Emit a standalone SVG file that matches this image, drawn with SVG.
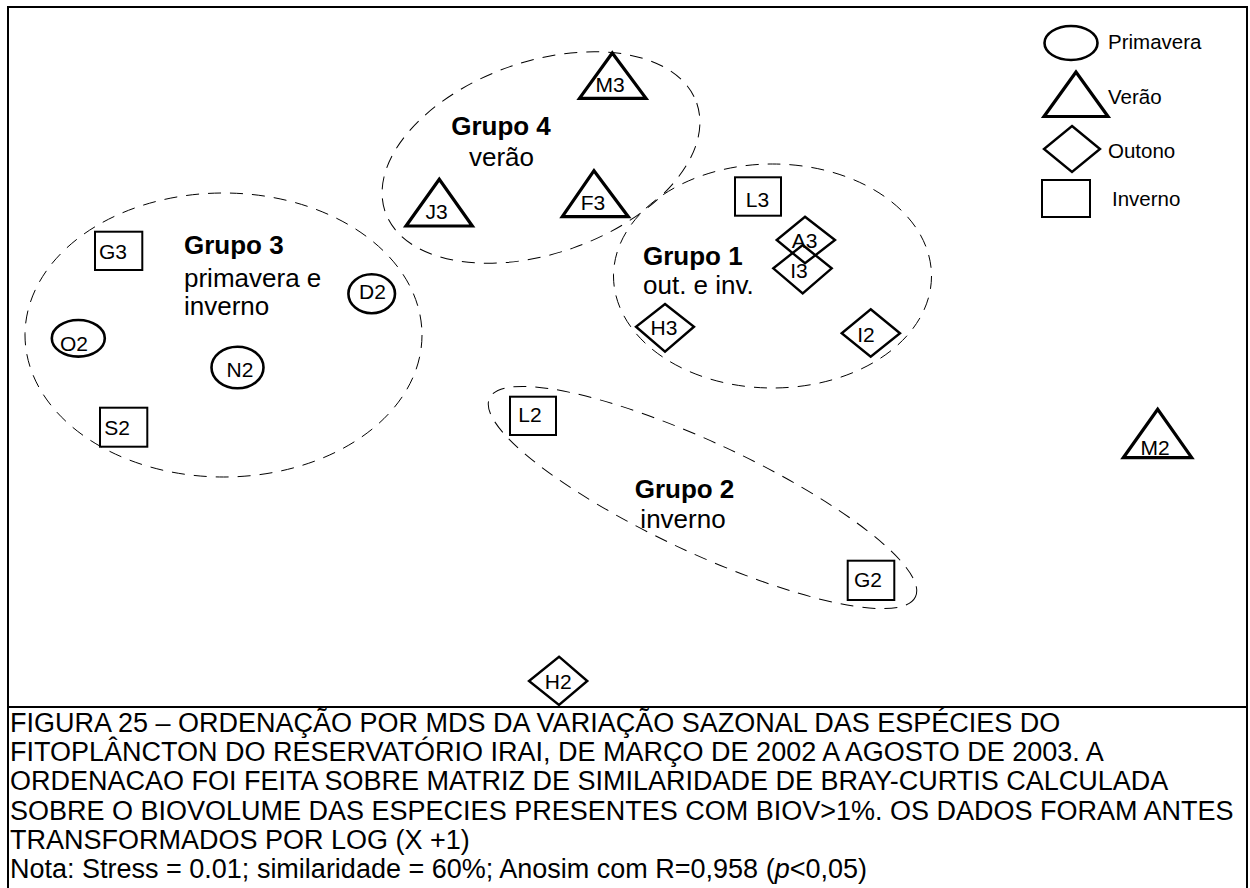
<svg xmlns="http://www.w3.org/2000/svg" width="1250" height="888" viewBox="0 0 1250 888">
<style>
text{font-family:"Liberation Sans",Arial,sans-serif;fill:#000}
.lbl{font-size:21px;text-anchor:middle}
.leg{font-size:20.5px}
.gt{font-size:26px;font-weight:bold}
.gs{font-size:26px}
.cap{font-size:27px}
.tri{fill:none;stroke:#000;stroke-width:3.2;stroke-linejoin:miter}
.ell{fill:none;stroke:#000;stroke-width:2.6}
.dia{fill:none;stroke:#000;stroke-width:2.4}
.sq{fill:none;stroke:#000;stroke-width:2}
.grp{fill:none;stroke:#000;stroke-width:1;stroke-dasharray:13 9}
</style>
<rect x="0" y="0" width="1250" height="888" fill="#fff"/>
<rect x="8" y="7" width="1239" height="900" fill="none" stroke="#000" stroke-width="2"/>
<line x1="8" y1="707" x2="1247" y2="707" stroke="#000" stroke-width="2"/>

<g id="connectors">
<ellipse class="grp" cx="541" cy="157.5" rx="165" ry="96" transform="rotate(-19.3 541 157.5)"/>
<ellipse class="grp" cx="223.5" cy="335" rx="198.5" ry="142"/>
<ellipse class="grp" cx="772.5" cy="276" rx="159" ry="112"/>
<ellipse class="grp" cx="702.5" cy="497.5" rx="235" ry="55" transform="rotate(25 702.5 497.5)"/>
</g>

<g id="legend">
<ellipse class="ell" cx="1071" cy="43" rx="26.5" ry="17" stroke-width="2.2"/>
<text class="leg" x="1108" y="49">Primavera</text>
<polygon class="tri" points="1076,72 1044,116.5 1108,116.5"/>
<text class="leg" x="1108" y="104">Verão</text>
<polygon class="dia" points="1072,126 1100,149 1072,172 1044,149"/>
<text class="leg" x="1108" y="158">Outono</text>
<rect class="sq" x="1042" y="180" width="48" height="37"/>
<text class="leg" x="1112" y="206">Inverno</text>
</g>

<g id="grupo4-label"><text class="gt" x="501" y="135" text-anchor="middle">Grupo 4</text><text class="gs" x="501.5" y="166" text-anchor="middle">verão</text></g>
<g id="grupo3-label"><text class="gt" x="184" y="254">Grupo 3</text><text class="gs" x="184" y="287">primavera e</text><text class="gs" x="184" y="315">inverno</text></g>
<g id="grupo1-label"><text class="gt" x="643" y="265">Grupo 1</text><text class="gs" x="643" y="294">out. e inv.</text></g>
<g id="grupo2-label"><text class="gt" x="684.5" y="498" text-anchor="middle">Grupo 2</text><text class="gs" x="683" y="528" text-anchor="middle">inverno</text></g>

<g id="M3"><polygon class="tri" points="612.3,53 579.5,98.3 646,98.3"/><text class="lbl" x="610" y="92">M3</text></g>
<g id="J3"><polygon class="tri" points="439.3,179.3 406,226 472.3,226"/><text class="lbl" x="436.5" y="218.5">J3</text></g>
<g id="F3"><polygon class="tri" points="594,170.7 562.3,216.7 628.3,216.7"/><text class="lbl" x="593" y="209.5">F3</text></g>
<g id="M2"><polygon class="tri" points="1157.7,409.3 1123.3,457.7 1191.7,457.7"/><text class="lbl" x="1155" y="455">M2</text></g>

<g id="G3"><rect class="sq" x="95" y="231.7" width="47.3" height="38.3"/><text class="lbl" x="113" y="258.5">G3</text></g>
<g id="S2"><rect class="sq" x="100" y="407.7" width="47.3" height="39"/><text class="lbl" x="117" y="435">S2</text></g>
<g id="L3"><rect class="sq" x="735" y="177.3" width="46" height="38.4"/><text class="lbl" x="757.5" y="206.5">L3</text></g>
<g id="L2"><rect class="sq" x="510" y="396.7" width="46" height="38.3"/><text class="lbl" x="530" y="421.7">L2</text></g>
<g id="G2"><rect class="sq" x="847.7" y="560.7" width="46.6" height="39.3"/><text class="lbl" x="868" y="587">G2</text></g>

<g id="D2"><ellipse class="ell" cx="371.7" cy="293.8" rx="23.3" ry="19.5"/><text class="lbl" x="372.5" y="298.5">D2</text></g>
<g id="O2"><ellipse class="ell" cx="78.3" cy="338.3" rx="26.5" ry="18.3"/><text class="lbl" x="74" y="351">O2</text></g>
<g id="N2"><ellipse class="ell" cx="237.5" cy="367.5" rx="26" ry="20.8"/><text class="lbl" x="240" y="377">N2</text></g>

<g id="A3"><polygon class="dia" points="805,216.7 835,240 805,263.3 776.7,240"/><text class="lbl" x="804.7" y="247.5">A3</text></g>
<g id="I3"><polygon class="dia" points="802.7,245 831.7,268.3 802.7,293.3 773.3,268.3"/><text class="lbl" x="799" y="277.5">I3</text></g>
<g id="H3"><polygon class="dia" points="665,304 694,326.7 665,351.7 636,326.7"/><text class="lbl" x="664" y="335">H3</text></g>
<g id="I2"><polygon class="dia" points="870.7,309.3 900,333.3 870.7,356.7 841.7,333.3"/><text class="lbl" x="866" y="342">I2</text></g>
<g id="H2"><polygon class="dia" points="559,656.7 587.3,681 559,705 529,681"/><text class="lbl" x="558.3" y="688.5">H2</text></g>

<g id="caption">
<text class="cap" x="10" y="732">FIGURA 25 – ORDENAÇÃO POR MDS DA VARIAÇÃO SAZONAL DAS ESPÉCIES DO</text>
<text class="cap" x="10" y="761.2">FITOPLÂNCTON DO RESERVATÓRIO IRAI, DE MARÇO DE 2002 A AGOSTO DE 2003. A</text>
<text class="cap" x="10" y="790.4">ORDENACAO FOI FEITA SOBRE MATRIZ DE SIMILARIDADE DE BRAY-CURTIS CALCULADA</text>
<text class="cap" x="10" y="819.6">SOBRE O BIOVOLUME DAS ESPECIES PRESENTES COM BIOV&gt;1%. OS DADOS FORAM ANTES</text>
<text class="cap" x="10" y="848.8">TRANSFORMADOS POR LOG (X +1)</text>
<text class="cap" x="10" y="878">Nota: Stress = 0.01; similaridade = 60%; Anosim com R=0,958 (<tspan font-style="italic">p</tspan>&lt;0,05)</text>
</g>
</svg>
